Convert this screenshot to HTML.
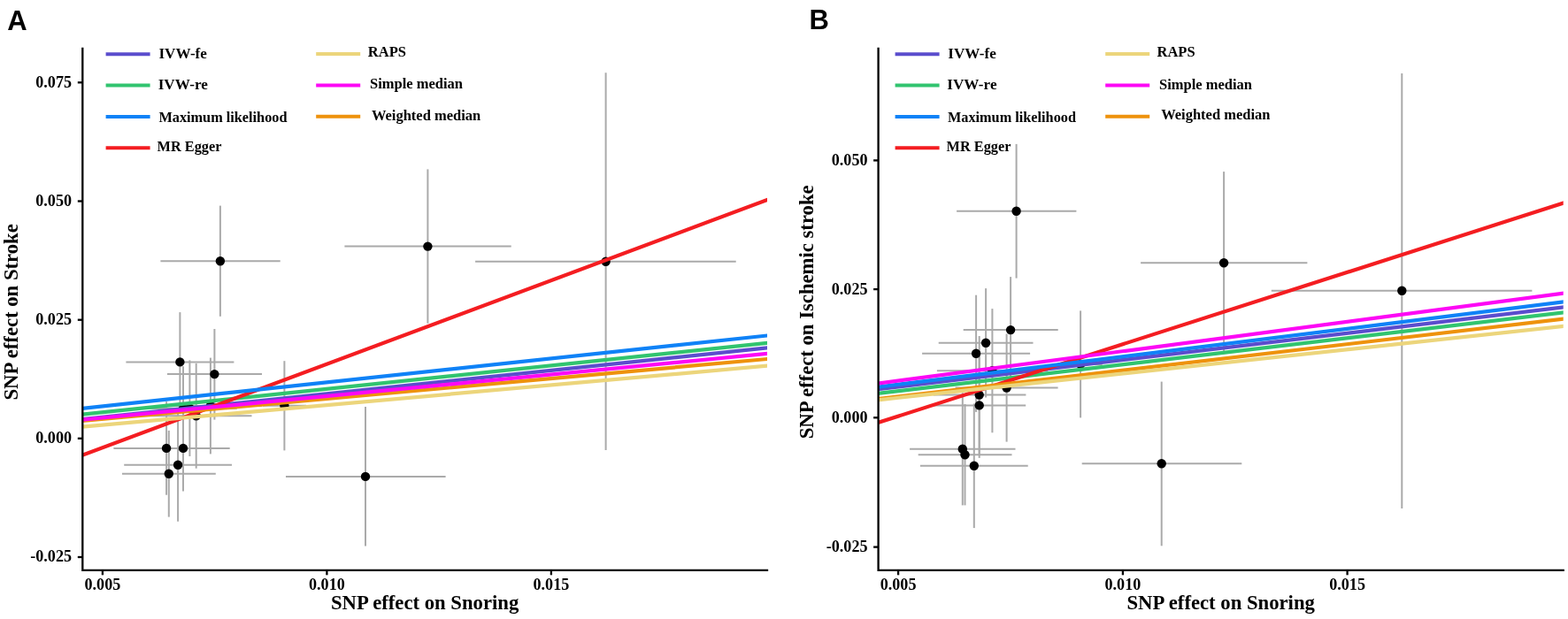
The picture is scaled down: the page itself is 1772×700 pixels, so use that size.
<!DOCTYPE html>
<html><head><meta charset="utf-8"><title>MR scatter plots</title>
<style>html,body{margin:0;padding:0;background:#fff;} svg{display:block;}</style></head>
<body>
<svg width="1772" height="700" viewBox="0 0 1772 700">
<rect width="1772" height="700" fill="#fff"/>
<clipPath id="clipA"><rect x="93.3" y="40" width="773.7" height="604.8"/></clipPath>
<g stroke="#aaaaaa" stroke-width="2" fill="none">
<line x1="128.4" y1="506.9" x2="247.8" y2="506.9"/><line x1="188.1" y1="454.1" x2="188.1" y2="559.7"/>
<line x1="138.0" y1="535.7" x2="243.8" y2="535.7"/><line x1="190.8" y1="486.9" x2="190.8" y2="584.6"/>
<line x1="140.2" y1="525.8" x2="262.0" y2="525.8"/><line x1="201.1" y1="461.9" x2="201.1" y2="589.7"/>
<line x1="142.4" y1="409.4" x2="264.4" y2="409.4"/><line x1="203.4" y1="353.1" x2="203.4" y2="465.7"/>
<line x1="155.0" y1="506.9" x2="259.7" y2="506.9"/><line x1="207.0" y1="458.4" x2="207.0" y2="555.4"/>
<line x1="155.0" y1="462.0" x2="259.5" y2="462.0"/><line x1="207.0" y1="414.3" x2="207.0" y2="509.7"/>
<line x1="161.0" y1="461.7" x2="267.8" y2="461.7"/><line x1="214.4" y1="407.4" x2="214.4" y2="516.0"/>
<line x1="159.2" y1="470.3" x2="284.5" y2="470.3"/><line x1="221.7" y1="410.9" x2="221.7" y2="529.7"/>
<line x1="179.9" y1="459.0" x2="295.9" y2="459.0"/><line x1="237.9" y1="404.6" x2="237.9" y2="513.4"/>
<line x1="189.0" y1="423.1" x2="296.0" y2="423.1"/><line x1="242.4" y1="372.0" x2="242.4" y2="474.6"/>
<line x1="181.4" y1="295.3" x2="316.7" y2="295.3"/><line x1="248.9" y1="232.6" x2="248.9" y2="357.8"/>
<line x1="297.0" y1="458.8" x2="346.0" y2="458.8"/><line x1="321.4" y1="408.2" x2="321.4" y2="509.4"/>
<line x1="323.0" y1="538.9" x2="503.6" y2="538.9"/><line x1="413.0" y1="460.1" x2="413.0" y2="617.4"/>
<line x1="389.4" y1="278.6" x2="577.7" y2="278.6"/><line x1="483.4" y1="191.4" x2="483.4" y2="365.7"/>
<line x1="537.1" y1="295.7" x2="831.7" y2="295.7"/><line x1="684.6" y1="82.3" x2="684.6" y2="509.1"/>
</g>
<g fill="#000">
<circle cx="188.1" cy="506.9" r="5.2"/>
<circle cx="190.8" cy="535.7" r="5.2"/>
<circle cx="201.1" cy="525.8" r="5.2"/>
<circle cx="203.4" cy="409.4" r="5.2"/>
<circle cx="207.0" cy="506.9" r="5.2"/>
<circle cx="207.0" cy="462.0" r="5.2"/>
<circle cx="214.4" cy="461.7" r="5.2"/>
<circle cx="221.7" cy="470.3" r="5.2"/>
<circle cx="237.9" cy="459.0" r="5.2"/>
<circle cx="242.4" cy="423.1" r="5.2"/>
<circle cx="248.9" cy="295.3" r="5.2"/>
<circle cx="321.4" cy="458.8" r="5.2"/>
<circle cx="413.0" cy="538.9" r="5.2"/>
<circle cx="483.4" cy="278.6" r="5.2"/>
<circle cx="684.6" cy="295.7" r="5.2"/>
</g>
<g stroke-width="4.2" clip-path="url(#clipA)">
<line x1="74.0" y1="470.69" x2="887.0" y2="385.81" stroke="#31c46f"/>
<line x1="74.0" y1="476.09" x2="887.0" y2="391.31" stroke="#5b4dcd"/>
<line x1="74.0" y1="521.86" x2="887.0" y2="218.54" stroke="#f41d21"/>
<line x1="74.0" y1="477.61" x2="887.0" y2="404.19" stroke="#ee920c"/>
<line x1="74.0" y1="463.83" x2="887.0" y2="377.37" stroke="#0f82f7"/>
<line x1="74.0" y1="476.53" x2="887.0" y2="397.97" stroke="#fd08f5"/>
<line x1="74.0" y1="484.38" x2="887.0" y2="411.92" stroke="#ecd57b"/>
</g>
<g stroke="#000" stroke-width="2.3" fill="none">
<polyline points="93.3,55 93.3,644.8 867.0,644.8" stroke-linecap="square" stroke-linejoin="miter"/>
<line x1="87.8" y1="93.3" x2="93.3" y2="93.3"/>
<line x1="87.8" y1="227.5" x2="93.3" y2="227.5"/>
<line x1="87.8" y1="361.7" x2="93.3" y2="361.7"/>
<line x1="87.8" y1="495.8" x2="93.3" y2="495.8"/>
<line x1="87.8" y1="630.0" x2="93.3" y2="630.0"/>
<line x1="115.9" y1="644.8" x2="115.9" y2="650.3"/>
<line x1="369.4" y1="644.8" x2="369.4" y2="650.3"/>
<line x1="622.9" y1="644.8" x2="622.9" y2="650.3"/>
</g>
<g font-family='"Liberation Serif", "Times New Roman", serif' font-weight="bold" font-size="18.1" fill="#000">
<text x="81.0" y="98.7" text-anchor="end">0.075</text>
<text x="81.0" y="232.9" text-anchor="end">0.050</text>
<text x="81.0" y="367.1" text-anchor="end">0.025</text>
<text x="81.0" y="501.2" text-anchor="end">0.000</text>
<text x="81.0" y="635.4" text-anchor="end">-0.025</text>
<text x="115.9" y="666.5" text-anchor="middle">0.005</text>
<text x="369.4" y="666.5" text-anchor="middle">0.010</text>
<text x="622.9" y="666.5" text-anchor="middle">0.015</text>
</g>
<text x="480.1" y="688.7" text-anchor="middle" font-family='"Liberation Serif", "Times New Roman", serif' font-weight="bold" font-size="22.7" fill="#000">SNP effect on Snoring</text>
<text transform="translate(19.7,352.9) rotate(-90)" text-anchor="middle" font-family='"Liberation Serif", "Times New Roman", serif' font-weight="bold" font-size="22.7" fill="#000">SNP effect on Stroke</text>
<g stroke-width="4">
<line x1="119.6" y1="61.2" x2="169.6" y2="61.2" stroke="#5b4dcd"/>
<line x1="119.6" y1="96.5" x2="169.6" y2="96.5" stroke="#31c46f"/>
<line x1="119.6" y1="132.0" x2="169.6" y2="132.0" stroke="#0f82f7"/>
<line x1="119.6" y1="167.2" x2="169.6" y2="167.2" stroke="#f41d21"/>
<line x1="357.2" y1="61.1" x2="407.2" y2="61.1" stroke="#ecd57b"/>
<line x1="357.2" y1="96.5" x2="407.2" y2="96.5" stroke="#fd08f5"/>
<line x1="357.2" y1="131.8" x2="407.2" y2="131.8" stroke="#ee920c"/>
</g>
<g font-family='"Liberation Serif", "Times New Roman", serif' font-weight="bold" font-size="16.5" fill="#000">
<text x="179.4" y="65.6" textLength="54.5" lengthAdjust="spacingAndGlyphs">IVW-fe</text>
<text x="178.7" y="100.5" textLength="56.2" lengthAdjust="spacingAndGlyphs">IVW-re</text>
<text x="179.4" y="137.8" textLength="145.1" lengthAdjust="spacingAndGlyphs">Maximum likelihood</text>
<text x="177.6" y="171.1" textLength="72.8" lengthAdjust="spacingAndGlyphs">MR Egger</text>
<text x="415.8" y="63.8">RAPS</text>
<text x="418.0" y="100.4">Simple median</text>
<text x="419.9" y="135.6">Weighted median</text>
</g>
<text x="8.3" y="34.3" font-family='"Liberation Sans", Arial, sans-serif' font-weight="bold" font-size="31" fill="#000">A</text>
<clipPath id="clipB"><rect x="992.6" y="40" width="774.1" height="604.8"/></clipPath>
<g stroke="#aaaaaa" stroke-width="2" fill="none">
<line x1="1028.1" y1="507.8" x2="1147.5" y2="507.8"/><line x1="1087.8" y1="444.2" x2="1087.8" y2="571.4"/>
<line x1="1037.7" y1="514.2" x2="1143.5" y2="514.2"/><line x1="1090.5" y1="457.0" x2="1090.5" y2="571.4"/>
<line x1="1039.9" y1="526.8" x2="1161.7" y2="526.8"/><line x1="1100.8" y1="456.5" x2="1100.8" y2="597.1"/>
<line x1="1042.1" y1="399.8" x2="1164.1" y2="399.8"/><line x1="1103.1" y1="333.7" x2="1103.1" y2="465.9"/>
<line x1="1054.7" y1="446.6" x2="1159.4" y2="446.6"/><line x1="1106.7" y1="380.0" x2="1106.7" y2="513.2"/>
<line x1="1054.7" y1="458.4" x2="1159.2" y2="458.4"/><line x1="1106.7" y1="398.9" x2="1106.7" y2="517.9"/>
<line x1="1060.7" y1="387.8" x2="1167.5" y2="387.8"/><line x1="1114.1" y1="326.1" x2="1114.1" y2="449.5"/>
<line x1="1058.9" y1="419.2" x2="1184.2" y2="419.2"/><line x1="1121.4" y1="349.1" x2="1121.4" y2="489.3"/>
<line x1="1079.6" y1="438.5" x2="1195.6" y2="438.5"/><line x1="1137.6" y1="377.5" x2="1137.6" y2="499.6"/>
<line x1="1088.7" y1="373.1" x2="1195.7" y2="373.1"/><line x1="1142.1" y1="313.1" x2="1142.1" y2="433.1"/>
<line x1="1081.1" y1="238.7" x2="1216.4" y2="238.7"/><line x1="1148.6" y1="162.9" x2="1148.6" y2="314.6"/>
<line x1="1196.7" y1="411.9" x2="1245.7" y2="411.9"/><line x1="1221.1" y1="351.4" x2="1221.1" y2="472.4"/>
<line x1="1222.7" y1="524.3" x2="1403.3" y2="524.3"/><line x1="1312.7" y1="431.6" x2="1312.7" y2="617.3"/>
<line x1="1289.1" y1="297.2" x2="1477.4" y2="297.2"/><line x1="1383.1" y1="194.1" x2="1383.1" y2="400.3"/>
<line x1="1436.8" y1="328.8" x2="1731.4" y2="328.8"/><line x1="1584.3" y1="83.0" x2="1584.3" y2="575.0"/>
</g>
<g fill="#000">
<circle cx="1087.8" cy="507.8" r="5.2"/>
<circle cx="1090.5" cy="514.2" r="5.2"/>
<circle cx="1100.8" cy="526.8" r="5.2"/>
<circle cx="1103.1" cy="399.8" r="5.2"/>
<circle cx="1106.7" cy="446.6" r="5.2"/>
<circle cx="1106.7" cy="458.4" r="5.2"/>
<circle cx="1114.1" cy="387.8" r="5.2"/>
<circle cx="1121.4" cy="419.2" r="5.2"/>
<circle cx="1137.6" cy="438.5" r="5.2"/>
<circle cx="1142.1" cy="373.1" r="5.2"/>
<circle cx="1148.6" cy="238.7" r="5.2"/>
<circle cx="1221.1" cy="411.9" r="5.2"/>
<circle cx="1312.7" cy="524.3" r="5.2"/>
<circle cx="1383.1" cy="297.2" r="5.2"/>
<circle cx="1584.3" cy="328.8" r="5.2"/>
</g>
<g stroke-width="4.2" clip-path="url(#clipB)">
<line x1="974.0" y1="447.06" x2="1786.7" y2="351.04" stroke="#31c46f"/>
<line x1="974.0" y1="442.39" x2="1786.7" y2="345.11" stroke="#5b4dcd"/>
<line x1="974.0" y1="483.81" x2="1786.7" y2="223.19" stroke="#f41d21"/>
<line x1="974.0" y1="453.34" x2="1786.7" y2="358.26" stroke="#ee920c"/>
<line x1="974.0" y1="439.78" x2="1786.7" y2="338.92" stroke="#0f82f7"/>
<line x1="974.0" y1="435.93" x2="1786.7" y2="329.07" stroke="#fd08f5"/>
<line x1="974.0" y1="454.25" x2="1786.7" y2="366.75" stroke="#ecd57b"/>
</g>
<g stroke="#000" stroke-width="2.3" fill="none">
<polyline points="992.6,55 992.6,644.8 1766.7,644.8" stroke-linecap="square" stroke-linejoin="miter"/>
<line x1="987.1" y1="181.4" x2="992.6" y2="181.4"/>
<line x1="987.1" y1="327.1" x2="992.6" y2="327.1"/>
<line x1="987.1" y1="472.3" x2="992.6" y2="472.3"/>
<line x1="987.1" y1="618.6" x2="992.6" y2="618.6"/>
<line x1="1015.1" y1="644.8" x2="1015.1" y2="650.3"/>
<line x1="1268.9" y1="644.8" x2="1268.9" y2="650.3"/>
<line x1="1522.6" y1="644.8" x2="1522.6" y2="650.3"/>
</g>
<g font-family='"Liberation Serif", "Times New Roman", serif' font-weight="bold" font-size="18.1" fill="#000">
<text x="980.5" y="186.8" text-anchor="end">0.050</text>
<text x="980.5" y="332.5" text-anchor="end">0.025</text>
<text x="980.5" y="477.7" text-anchor="end">0.000</text>
<text x="980.5" y="624.0" text-anchor="end">-0.025</text>
<text x="1015.1" y="666.5" text-anchor="middle">0.005</text>
<text x="1268.9" y="666.5" text-anchor="middle">0.010</text>
<text x="1522.6" y="666.5" text-anchor="middle">0.015</text>
</g>
<text x="1379.7" y="688.7" text-anchor="middle" font-family='"Liberation Serif", "Times New Roman", serif' font-weight="bold" font-size="22.7" fill="#000">SNP effect on Snoring</text>
<text transform="translate(918.8,352.85) rotate(-90)" text-anchor="middle" font-family='"Liberation Serif", "Times New Roman", serif' font-weight="bold" font-size="22.7" fill="#000">SNP effect on Ischemic stroke</text>
<g stroke-width="4">
<line x1="1011.6" y1="61.2" x2="1061.6" y2="61.2" stroke="#5b4dcd"/>
<line x1="1011.6" y1="96.5" x2="1061.6" y2="96.5" stroke="#31c46f"/>
<line x1="1011.6" y1="132.0" x2="1061.6" y2="132.0" stroke="#0f82f7"/>
<line x1="1011.6" y1="167.2" x2="1061.6" y2="167.2" stroke="#f41d21"/>
<line x1="1249.2" y1="61.1" x2="1299.2" y2="61.1" stroke="#ecd57b"/>
<line x1="1249.2" y1="96.5" x2="1299.2" y2="96.5" stroke="#fd08f5"/>
<line x1="1249.2" y1="131.8" x2="1299.2" y2="131.8" stroke="#ee920c"/>
</g>
<g font-family='"Liberation Serif", "Times New Roman", serif' font-weight="bold" font-size="16.5" fill="#000">
<text x="1071.3" y="65.6" textLength="54.5" lengthAdjust="spacingAndGlyphs">IVW-fe</text>
<text x="1070.3" y="100.5" textLength="56.2" lengthAdjust="spacingAndGlyphs">IVW-re</text>
<text x="1070.9" y="137.8" textLength="145.1" lengthAdjust="spacingAndGlyphs">Maximum likelihood</text>
<text x="1069.6" y="171.1" textLength="72.8" lengthAdjust="spacingAndGlyphs">MR Egger</text>
<text x="1307.5" y="63.6">RAPS</text>
<text x="1310.0" y="100.5">Simple median</text>
<text x="1312.2" y="135.4">Weighted median</text>
</g>
<text x="914.6" y="33.4" font-family='"Liberation Sans", Arial, sans-serif' font-weight="bold" font-size="31" fill="#000">B</text>
</svg>
</body></html>
